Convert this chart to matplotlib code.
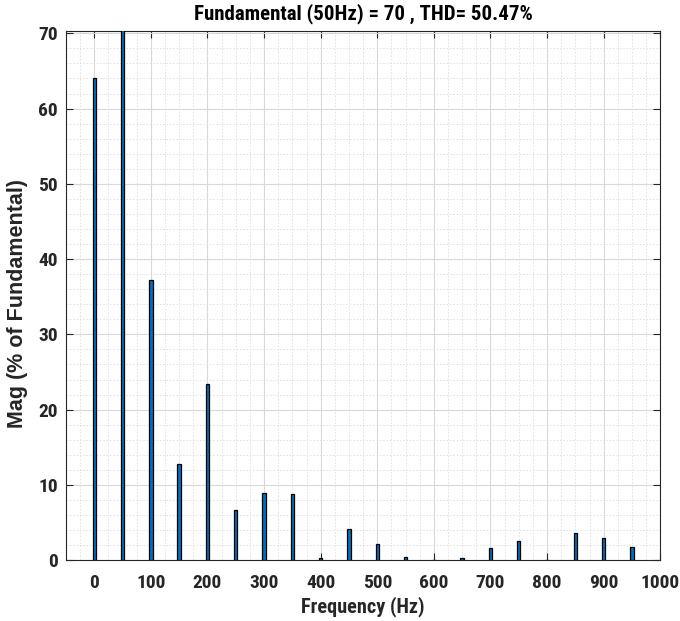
import numpy as np
import matplotlib
matplotlib.use('Agg')
import matplotlib.pyplot as plt
from matplotlib.ticker import MultipleLocator

# harmonic spectrum, % of fundamental
freqs = [0, 50, 100, 150, 200, 250, 300, 350, 400, 450, 500, 550, 600, 650, 700, 750, 800, 850, 900, 950]
mags = [64.1, 100.0, 37.2, 12.75, 23.4, 6.7, 8.94, 8.8, 0.25, 4.2, 2.1, 0.45, 0.05, 0.3, 1.6, 2.56, 0.05, 3.58, 2.9, 1.77]
xticks = list(range(0, 1001, 100))
yticks = list(range(0, 71, 10))

plt.rcParams['font.family'] = ['Roboto Condensed', 'DejaVu Sans']
plt.rcParams['font.stretch'] = 'condensed'
plt.rcParams['font.weight'] = 'bold'

fig = plt.figure(figsize=(6.8, 6.21), dpi=100)
ax = fig.add_axes([0.097, 0.098, 0.874, 0.852])

ax.bar(freqs, mags, width=6, color='#0072BD', edgecolor='black', linewidth=0.9, zorder=3)

ax.set_xlim(-50, 1000)
ax.set_ylim(0, 70.3)
ax.set_xticks(xticks)
ax.set_yticks(yticks)
ax.xaxis.set_minor_locator(MultipleLocator(25))
ax.yaxis.set_minor_locator(MultipleLocator(2))

ax.grid(which='major', color='#d9d9d9', linewidth=0.8, zorder=0)
ax.grid(which='minor', color='#dedede', linestyle=(0, (2, 2)), linewidth=0.6, zorder=0)
ax.set_axisbelow(True)

ax.tick_params(which='major', direction='in', top=True, right=True, length=5,
               labelsize=14, colors='#262626', width=0.8)
ax.tick_params(axis='x', pad=10)
ax.tick_params(axis='y', pad=6)
ax.tick_params(which='minor', length=0)
for lbl in ax.get_xticklabels() + ax.get_yticklabels():
    lbl.set_fontweight('bold')
for s in ax.spines.values():
    s.set_color('#262626')
    s.set_linewidth(0.8)

ax.set_xlabel('Frequency (Hz)', fontsize=14.6, fontweight='bold', color='#262626', labelpad=3)
ax.set_ylabel('Mag (% of Fundamental)', fontsize=15.5, fontweight='bold', color='#262626',
              family=['Liberation Sans', 'DejaVu Sans'], fontstretch='normal')
ax.yaxis.set_label_coords(-0.064, 0.485)
ax.set_title('Fundamental (50Hz) = 70 , THD= 50.47%', fontsize=15, fontweight='bold', pad=8)

fig.savefig('out.png', dpi=100)
